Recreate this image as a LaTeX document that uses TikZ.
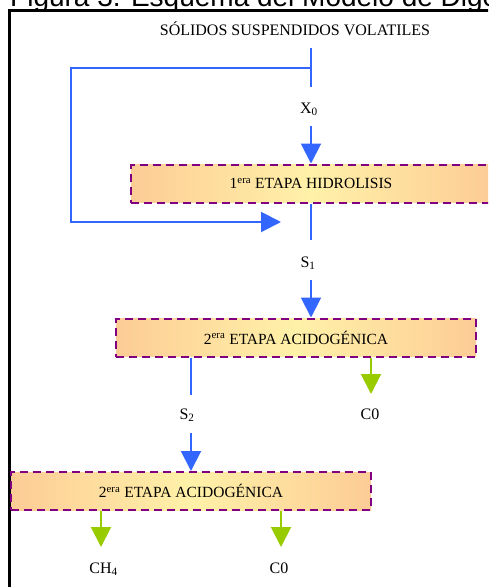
\documentclass[tikz,border=0pt]{standalone}
\usepackage{fontspec}
\setmainfont{Liberation Serif}
\newfontfamily\arialf{Liberation Sans}
\usetikzlibrary{arrows.meta}
\definecolor{fblue}{RGB}{51,102,255}
\definecolor{fgreen}{RGB}{153,204,0}
\definecolor{fpurple}{RGB}{128,0,128}
\definecolor{fedge}{RGB}{253,204,150}
\definecolor{fmid}{RGB}{255,241,168}
\begin{document}
\begin{tikzpicture}[x=1pt,y=-1pt,
  lbl/.style={font=\fontsize{16}{18}\selectfont, inner sep=0pt, anchor=base},
  stage/.style={draw=fpurple, line width=2pt, dash pattern=on 8pt off 5pt,
    left color=fedge, right color=fedge, middle color=fmid,
    font=\fontsize{15.5}{18}\selectfont, inner sep=0pt,
    minimum width=360pt, minimum height=38pt},
  flow/.style={draw=fblue, line width=2pt},
  bluearrow/.style={flow, -{Triangle[length=20pt,width=20pt]}},
  greenarrow/.style={draw=fgreen, line width=2pt, -{Triangle[length=20pt,width=20pt]}}]
\useasboundingbox (0,0) rectangle (488,587);
\clip (0,0) rectangle (488,587);
\fill[white] (0,0) rectangle (488,587);

% frame and title
\draw[line width=2.7pt] (9.7,600) -- (9.7,10.7) -- (500,10.7);
\node[anchor=base west, inner sep=0pt, font=\arialf\fontsize{28}{30}\selectfont] (title) at (10,6) {Figura 3. Esquema del Modelo de Digestión};

% input text
\node[lbl] (ssv) at (295,35) {SÓLIDOS SUSPENDIDOS VOLATILES};

% stages
\node[stage] (b1) at (311,183.5) {1\textsuperscript{era} ETAPA HIDROLISIS};
\node[stage] (b2) at (296,337.5) {2\textsuperscript{era} ETAPA ACIDOGÉNICA};
\node[stage] (b3) at (191,491) {2\textsuperscript{era} ETAPA ACIDOGÉNICA};

% labels
\node[lbl] (x0) at (309,113) {X\textsubscript{0}};
\node[lbl] (s1) at (308,267) {S\textsubscript{1}};
\node[lbl] (s2) at (187,419) {S\textsubscript{2}};
\node[lbl] (c0a) at (370,419) {C0};
\node[lbl] (ch4) at (103.5,573) {CH\textsubscript{4}};
\node[lbl] (c0b) at (279,573) {C0};

% T junction and recycle loop
\coordinate (ttop) at (311,48);
\coordinate (tbot) at (311,87);
\coordinate (tmid) at (311,68);
\coordinate (fbl) at (71,68);
\coordinate (fbb) at (71,222);
\coordinate (ftip) at (281,222);
\draw[flow] (ttop) -- (tbot);
\draw[bluearrow] (tmid) -- (fbl) -- (fbb) -- (ftip);

% X0 into stage 1
\coordinate (x0s) at (311,126);
\draw[bluearrow] (x0s) -- (x0s |- b1.north);

% stage 1 out
\coordinate (b1o) at (311,240);
\draw[flow] (b1o |- b1.south) -- (b1o);

% S1 into stage 2
\coordinate (s1s) at (311,280);
\draw[bluearrow] (s1s) -- (s1s |- b2.north);

% stage 2 outputs
\coordinate (b2o) at (191,395);
\draw[flow] (b2o |- b2.south) -- (b2o);
\coordinate (g1) at (371,394);
\draw[greenarrow] (g1 |- b2.south) -- (g1);

% S2 into stage 3
\coordinate (s2s) at (191,433);
\draw[bluearrow] (s2s) -- (s2s |- b3.north);

% stage 3 outputs
\coordinate (g2) at (101,547);
\coordinate (g3) at (281,547);
\draw[greenarrow] (g2 |- b3.south) -- (g2);
\draw[greenarrow] (g3 |- b3.south) -- (g3);
\end{tikzpicture}
\end{document}
